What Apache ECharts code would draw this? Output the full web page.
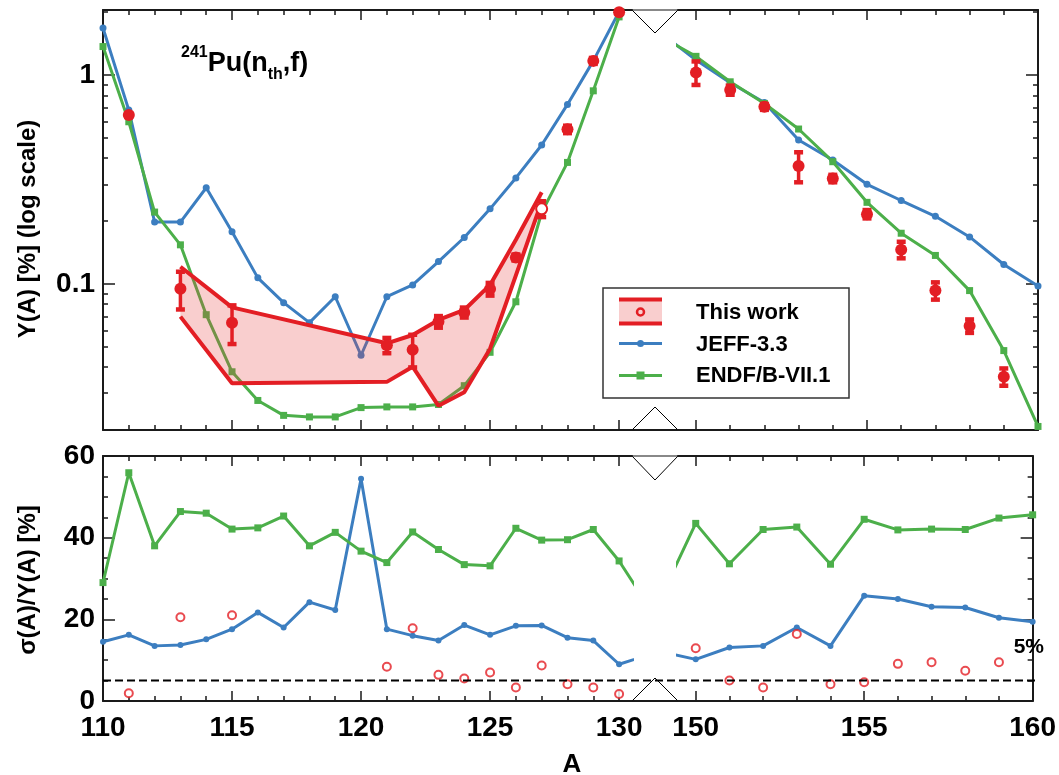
<!DOCTYPE html>
<html>
<head>
<meta charset="utf-8">
<script src="https://cdn.jsdelivr.net/npm/echarts@6/dist/echarts.min.js"></script>
<style>html,body{margin:0;padding:0;background:#fff}#c{width:1059px;height:775px}</style>
</head>
<body>
<div id="c"></div>
<script>
// ---------------- DATA ----------------
const massLeft = [110,111,112,113,114,115,116,117,118,119,120,121,122,123,124,125,126,127,128,129,130,131];
const jeffYieldLeft = [1.68,0.68,0.198,0.198,0.289,0.178,0.107,0.0814,0.0653,0.0869,0.0456,0.0869,0.099,0.128,0.167,0.229,0.322,0.463,0.724,1.17,2.01,3.2];
const endfYieldLeft = [1.37,0.598,0.221,0.154,0.0713,0.038,0.0277,0.0235,0.0231,0.0231,0.0256,0.0258,0.0258,0.0265,0.0326,0.0471,0.0822,0.22,0.382,0.841,1.90,3.5];
const jeffUncLeft = [14.5,16.2,13.5,13.7,15.1,17.6,21.7,18.0,24.2,22.3,54.4,17.6,16.0,14.8,18.6,16.2,18.4,18.5,15.5,14.8,9.0,11.0];
const endfUncLeft = [29,55.9,38.0,46.4,46.0,42.1,42.4,45.3,38.0,41.3,36.7,33.9,41.4,37.1,33.4,33.1,42.3,39.4,39.5,42.0,34.3,24.5];

const massRight = [149,150,151,152,153,154,155,156,157,158,159,160];
const jeffYieldRight = [1.58,1.18,0.919,0.740,0.489,0.392,0.300,0.251,0.211,0.168,0.124,0.0978];
const endfYieldRight = [1.52,1.23,0.929,0.732,0.552,0.385,0.246,0.175,0.137,0.093,0.048,0.0208];
const jeffUncRight = [12.0,10.2,13.1,13.5,18.0,13.5,25.8,25.0,23.1,22.9,20.4,19.4];
const endfUncRight = [26,43.5,33.6,42.0,42.6,33.5,44.5,41.9,42.1,42.0,44.8,45.6];

// This work: mass, yield [%], relative uncertainty [%]
const measMass = [111,113,115,121,122,123,124,125,126,127,128,129,130,150,151,152,153,154,155,156,157,158,159];
const measYield = [0.644,0.095,0.0653,0.0509,0.0485,0.066,0.0731,0.0946,0.134,0.229,0.550,1.17,2.0,1.03,0.848,0.705,0.367,0.320,0.216,0.146,0.093,0.063,0.036];
const measRelUnc = [1.9,20.5,21.0,8.4,17.8,6.4,5.5,7.0,3.3,8.7,4.1,3.3,1.7,12.9,5.0,3.3,16.4,4.1,4.6,9.1,9.5,7.4,9.5];
const openPointMass = [127];

// This work band (envelope)
const bandMass = [113,115,121,122,123,124,125,126,127];
const bandUpper = [0.121,0.0773,0.052,0.057,0.0673,0.0751,0.099,0.163,0.275];
const bandLower = [0.0698,0.0335,0.034,0.0402,0.0261,0.0303,0.049,0.110,0.248];

const refLineValue = 5;

// tick labels
const xLabelsLeft = [110,115,120,125,130];
const xLabelsRight = [150,155,160];
const yLabelsTop = [0.1,1];
const yLabelsBottom = [0,20,40,60];
const seriesNames = ['This work','JEFF-3.3','ENDF/B-VII.1'];

// ---------------- STYLE / LAYOUT ----------------
const RED = '#e31e24', BLUE = '#3c7ec0', GREEN = '#4caf4a';
const BAND_FILL = 'rgba(230,60,60,0.25)';
const AX = '#1a1a1a';
const FONT = "'Liberation Sans', Arial, sans-serif";
const L = 103, BL = 632, BR = 678, R = 1038, T1 = 10, B1 = 430, T2 = 456, B2 = 701;
const X_LEFT_MIN = 110, X_LEFT_MAX = 130.5, X_RIGHT_MIN = 149.474, X_RIGHT_MAX = 160;
const Y_TOP_MIN = 0.02, Y_TOP_MAX = 2.05, Y_BOT_MIN = 0, Y_BOT_MAX = 60;

function range(a, b, s) { const r = []; for (let v = a; v <= b + 1e-9; v += s) r.push(+v.toFixed(6)); return r; }
const intsLeft = range(110, 130, 1), intsRight = range(150, 160, 1);
const logMinor = []; [0.01, 0.1, 1].forEach(d => { for (let k = 1; k <= 9; k++) { const v = +(k * d).toFixed(6); if (v >= Y_TOP_MIN && v <= Y_TOP_MAX) logMinor.push(v); } });
const fives = range(0, 60, 5);

function zip(xs, ys) { return xs.map((x, i) => [x, ys[i]]); }

function axisDef(gridIndex, position, type, min, max, tickVals, tickLen, showLine, labelVals) {
  const a = {
    type, gridIndex, position, min, max,
    axisLine: { show: showLine, onZero: false, lineStyle: { color: AX, width: 2 } },
    axisTick: { show: true, inside: true, length: tickLen, customValues: tickVals, lineStyle: { color: AX, width: 1.5 } },
    splitLine: { show: false },
    axisLabel: { show: false },
    axisPointer: { show: false }
  };
  if (type === 'log') a.logBase = 10;
  if (labelVals) {
    a.axisLabel = { show: true, customValues: labelVals, color: '#000', fontFamily: FONT, fontWeight: 'bold', fontSize: 28,
      margin: (position === 'bottom') ? 13 : 8 };
  }
  return a;
}

const xAxes = [];
function addX(grid, min, max, majors, minors, labels) {
  xAxes.push(axisDef(grid, 'bottom', 'value', min, max, majors, 10, true, labels));
  xAxes.push(axisDef(grid, 'bottom', 'value', min, max, minors, 5, false, null));
  xAxes.push(axisDef(grid, 'top', 'value', min, max, majors, 10, true, null));
  xAxes.push(axisDef(grid, 'top', 'value', min, max, minors, 5, false, null));
}
addX(0, X_LEFT_MIN, X_LEFT_MAX, xLabelsLeft, intsLeft, null);
addX(1, X_RIGHT_MIN, X_RIGHT_MAX, xLabelsRight, intsRight, null);
addX(2, X_LEFT_MIN, X_LEFT_MAX, xLabelsLeft, intsLeft, xLabelsLeft);
addX(3, X_RIGHT_MIN, X_RIGHT_MAX, xLabelsRight, intsRight, xLabelsRight);

const yAxes = [];
function addY(grid, pos, type, min, max, majors, minors, labels) {
  yAxes.push(axisDef(grid, pos, type, min, max, majors, 12, true, labels));
  yAxes.push(axisDef(grid, pos, type, min, max, minors, 5, false, null));
}
addY(0, 'left', 'log', Y_TOP_MIN, Y_TOP_MAX, yLabelsTop, logMinor, yLabelsTop);
addY(1, 'right', 'log', Y_TOP_MIN, Y_TOP_MAX, yLabelsTop, logMinor, null);
addY(2, 'left', 'value', Y_BOT_MIN, Y_BOT_MAX, yLabelsBottom, fives, yLabelsBottom);
addY(3, 'right', 'value', Y_BOT_MIN, Y_BOT_MAX, yLabelsBottom, fives, null);

function lineSeries(name, grid, data, color, symbol, size) {
  return { type: 'line', name, xAxisIndex: grid * 4, yAxisIndex: grid * 2, data, symbol, symbolSize: size,
    showSymbol: true, clip: true, lineStyle: { color, width: 3 }, itemStyle: { color }, z: 2, silent: true };
}

const measLeftIdx = measMass.map((m, i) => i).filter(i => measMass[i] < 140);
const measRightIdx = measMass.map((m, i) => i).filter(i => measMass[i] > 140);

function errData(idx) { return idx.map(i => [measMass[i], measYield[i] * (1 - measRelUnc[i] / 100), measYield[i] * (1 + measRelUnc[i] / 100)]); }
function ptData(idx) {
  return idx.map(i => openPointMass.includes(measMass[i])
    ? { value: [measMass[i], measYield[i]], symbol: 'emptyCircle', symbolSize: 11, itemStyle: { color: RED, borderColor: RED, borderWidth: 3 } }
    : [measMass[i], measYield[i]]);
}
function uncData(idx) { return idx.map(i => [measMass[i], measRelUnc[i]]); }

function errorBarSeries(grid, data) {
  return {
    type: 'custom', xAxisIndex: grid * 4, yAxisIndex: grid * 2, data, z: 5, silent: true,
    encode: { x: 0, y: [1, 2] },
    renderItem: function (params, api) {
      const x = api.value(0);
      const pLo = api.coord([x, api.value(1)]), pHi = api.coord([x, api.value(2)]);
      const hw = 4.5;
      return { type: 'group', children: [
        { type: 'line', shape: { x1: pLo[0], y1: pLo[1], x2: pHi[0], y2: pHi[1] }, style: { stroke: RED, lineWidth: 3.5 } },
        { type: 'line', shape: { x1: pLo[0] - hw, y1: pLo[1], x2: pLo[0] + hw, y2: pLo[1] }, style: { stroke: RED, lineWidth: 4.5 } },
        { type: 'line', shape: { x1: pHi[0] - hw, y1: pHi[1], x2: pHi[0] + hw, y2: pHi[1] }, style: { stroke: RED, lineWidth: 4.5 } }
      ] };
    }
  };
}

const bandSeries = {
  type: 'custom', xAxisIndex: 0, yAxisIndex: 0, z: 3, silent: true,
  data: zip(bandMass, bandUpper), encode: { x: 0, y: 1 },
  renderItem: function (params, api) {
    if (params.dataIndex !== 0) return null;
    const up = bandMass.map((m, i) => api.coord([m, bandUpper[i]]));
    const lo = bandMass.map((m, i) => api.coord([m, bandLower[i]])).reverse();
    return { type: 'polygon', shape: { points: up.concat(lo) }, style: { fill: BAND_FILL } };
  }
};

function bandLine(vals) {
  return { type: 'line', xAxisIndex: 0, yAxisIndex: 0, data: zip(bandMass, vals), symbol: 'none', z: 4, silent: true,
    lineStyle: { color: RED, width: 4 } };
}

const series = [
  lineSeries(seriesNames[1], 0, zip(massLeft, jeffYieldLeft), BLUE, 'circle', 7),
  lineSeries(seriesNames[2], 0, zip(massLeft, endfYieldLeft), GREEN, 'rect', 7),
  lineSeries(seriesNames[1], 1, zip(massRight, jeffYieldRight), BLUE, 'circle', 7),
  lineSeries(seriesNames[2], 1, zip(massRight, endfYieldRight), GREEN, 'rect', 7),
  bandSeries,
  bandLine(bandUpper),
  bandLine(bandLower),
  errorBarSeries(0, errData(measLeftIdx)),
  errorBarSeries(1, errData(measRightIdx)),
  { type: 'scatter', xAxisIndex: 0, yAxisIndex: 0, data: ptData(measLeftIdx), symbol: 'circle', symbolSize: 12, itemStyle: { color: RED, opacity: 1 }, z: 6, silent: true },
  { type: 'scatter', xAxisIndex: 4, yAxisIndex: 2, data: ptData(measRightIdx), symbol: 'circle', symbolSize: 12, itemStyle: { color: RED, opacity: 1 }, z: 6, silent: true },
  lineSeries(seriesNames[1], 2, zip(massLeft, jeffUncLeft), BLUE, 'circle', 6),
  lineSeries(seriesNames[2], 2, zip(massLeft, endfUncLeft), GREEN, 'rect', 7),
  lineSeries(seriesNames[1], 3, zip(massRight, jeffUncRight), BLUE, 'circle', 6),
  lineSeries(seriesNames[2], 3, zip(massRight, endfUncRight), GREEN, 'rect', 7),
  { type: 'scatter', xAxisIndex: 8, yAxisIndex: 4, data: uncData(measLeftIdx), symbol: 'emptyCircle', symbolSize: 8, itemStyle: { color: RED, borderColor: RED, borderWidth: 3 }, z: 6, silent: true },
  { type: 'scatter', xAxisIndex: 12, yAxisIndex: 6, data: uncData(measRightIdx), symbol: 'emptyCircle', symbolSize: 8, itemStyle: { color: RED, borderColor: RED, borderWidth: 3 }, z: 6, silent: true }
];

// ---------------- DECORATIONS (layout-only graphics) ----------------
const MID = (BL + BR) / 2;
function txt(x, y, text, size, extra) {
  return { type: 'text', x, y, z: 110, silent: true,
    style: Object.assign({ text, fill: '#000', font: 'bold ' + size + 'px ' + FONT, align: 'left', verticalAlign: 'middle', textAlign: 'left', textVerticalAlign: 'middle' }, extra || {}) };
}
const graphics = [
  // bridge frame lines across the break
  { type: 'line', shape: { x1: BL, y1: T1, x2: BR, y2: T1 }, style: { stroke: '#888', lineWidth: 2 }, silent: true },
  { type: 'line', shape: { x1: BL, y1: B1, x2: BR, y2: B1 }, style: { stroke: AX, lineWidth: 2 }, silent: true },
  { type: 'line', shape: { x1: BL, y1: T2, x2: BR, y2: T2 }, style: { stroke: '#888', lineWidth: 2 }, silent: true },
  { type: 'line', shape: { x1: BL, y1: B2, x2: BR, y2: B2 }, style: { stroke: AX, lineWidth: 2 }, silent: true },
  // break marks
  { type: 'polyline', shape: { points: [[BL, T1], [MID, T1 + 23], [BR, T1]] }, style: { stroke: '#000', lineWidth: 1, fill: null }, silent: true },
  { type: 'polyline', shape: { points: [[BL, B1], [MID, B1 - 23], [BR, B1]] }, style: { stroke: '#000', lineWidth: 1, fill: null }, silent: true },
  { type: 'polyline', shape: { points: [[BL, T2], [MID, T2 + 24], [BR, T2]] }, style: { stroke: '#000', lineWidth: 1, fill: null }, silent: true },
  { type: 'polyline', shape: { points: [[BL, B2], [MID, B2 - 23], [BR, B2]] }, style: { stroke: '#000', lineWidth: 1, fill: null }, silent: true },
  // title
  { type: 'text', x: 181, y: 45, z: 110, silent: true, style: {
      text: '{sup|241}{b|Pu(n}{sub|th}{b|,f)}', align: 'left', verticalAlign: 'top', textAlign: 'left', textVerticalAlign: 'top',
      rich: {
        b: { fontFamily: FONT, fontWeight: 'bold', fontSize: 27, lineHeight: 38, fill: '#000', color: '#000' },
        sup: { fontFamily: FONT, fontWeight: 'bold', fontSize: 16, lineHeight: 16, verticalAlign: 'top', fill: '#000', color: '#000' },
        sub: { fontFamily: FONT, fontWeight: 'bold', fontSize: 16, lineHeight: 22, verticalAlign: 'bottom', fill: '#000', color: '#000' }
      } } },
  // axis titles
  { type: 'text', x: 28, y: 229, rotation: Math.PI / 2, z: 110, silent: true,
    style: { text: 'Y(A) [%] (log scale)', fill: '#000', font: 'bold 24px ' + FONT, align: 'center', verticalAlign: 'middle', textAlign: 'center', textVerticalAlign: 'middle' } },
  { type: 'text', x: 28, y: 580, rotation: Math.PI / 2, z: 110, silent: true,
    style: { text: 'σ(A)/Y(A) [%]', fill: '#000', font: 'bold 24px ' + FONT, align: 'center', verticalAlign: 'middle', textAlign: 'center', textVerticalAlign: 'middle' } },
  { type: 'text', x: 572, y: 765, z: 110, silent: true,
    style: { text: 'A', fill: '#000', font: 'bold 26px ' + FONT, align: 'center', verticalAlign: 'middle', textAlign: 'center', textVerticalAlign: 'middle' } },
  // legend
  { type: 'rect', shape: { x: 603, y: 288, width: 246, height: 110 }, style: { fill: '#fff', stroke: '#333', lineWidth: 1.5 }, z: 100, silent: true },
  { type: 'rect', shape: { x: 619, y: 298, width: 43, height: 27 }, style: { fill: BAND_FILL }, z: 101, silent: true },
  { type: 'line', shape: { x1: 619, y1: 299.5, x2: 662, y2: 299.5 }, style: { stroke: RED, lineWidth: 4 }, z: 102, silent: true },
  { type: 'line', shape: { x1: 619, y1: 323.5, x2: 662, y2: 323.5 }, style: { stroke: RED, lineWidth: 4 }, z: 102, silent: true },
  { type: 'circle', shape: { cx: 640.5, cy: 312, r: 3.5 }, style: { fill: 'none', stroke: RED, lineWidth: 2.5 }, z: 102, silent: true },
  { type: 'line', shape: { x1: 619, y1: 343.5, x2: 662, y2: 343.5 }, style: { stroke: BLUE, lineWidth: 3 }, z: 102, silent: true },
  { type: 'circle', shape: { cx: 640.5, cy: 343.5, r: 3.5 }, style: { fill: BLUE }, z: 103, silent: true },
  { type: 'line', shape: { x1: 619, y1: 375.5, x2: 662, y2: 375.5 }, style: { stroke: GREEN, lineWidth: 3 }, z: 102, silent: true },
  { type: 'rect', shape: { x: 636.5, y: 371.5, width: 8, height: 8 }, style: { fill: GREEN }, z: 103, silent: true },
  txt(696, 313, seriesNames[0], 22),
  txt(696, 345, seriesNames[1], 22),
  txt(696, 376, seriesNames[2], 22)
];

// ---------------- CHART ----------------
const chart = echarts.init(document.getElementById('c'), null, { renderer: 'canvas' });
const option = {
  animation: false,
  backgroundColor: '#fff',
  grid: [
    { left: L, top: T1, width: BL - L, height: B1 - T1 },
    { left: BR, top: T1, width: R - BR, height: B1 - T1 },
    { left: L, top: T2, width: BL - L, height: B2 - T2 },
    { left: BR, top: T2, width: R - BR, height: B2 - T2 }
  ],
  xAxis: xAxes,
  yAxis: yAxes,
  series,
  graphic: graphics
};
chart.setOption(option);

// 5% reference line across the full width of the lower panel
const yRef = chart.convertToPixel({ yAxisIndex: 4 }, refLineValue);
chart.setOption({
  graphic: graphics.concat([
    { type: 'line', shape: { x1: L, y1: yRef, x2: R, y2: yRef }, style: { stroke: '#000', lineWidth: 2, lineDash: [8, 4] }, z: 50, silent: true },
    { type: 'text', x: 1044, y: yRef - 33, z: 110, silent: true,
      style: { text: refLineValue + '%', fill: '#000', font: 'bold 21px ' + FONT, align: 'right', verticalAlign: 'middle', textAlign: 'right', textVerticalAlign: 'middle' } }
  ])
});
</script>
</body>
</html>
